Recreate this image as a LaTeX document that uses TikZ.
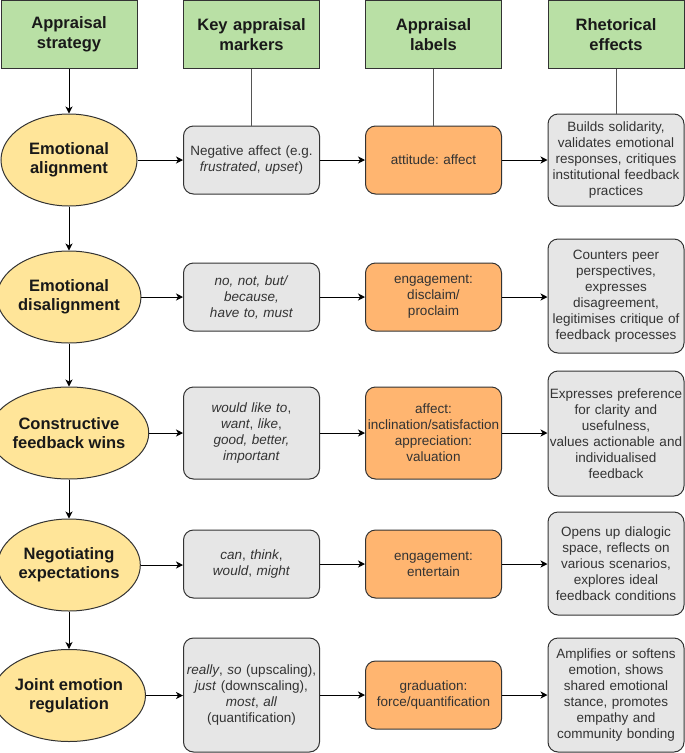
\documentclass[tikz,border=0pt]{standalone}
\usepackage{fontspec}
\setmainfont{Liberation Sans}
\usetikzlibrary{arrows.meta,shapes.geometric}
\definecolor{hdrfill}{HTML}{B9E0A5}
\definecolor{ellfill}{HTML}{FFE599}
\definecolor{orfill}{HTML}{FFB570}
\definecolor{grfill}{HTML}{E6E6E6}
\definecolor{bordc}{HTML}{333333}
\definecolor{bodytext}{HTML}{333333}
\definecolor{linkc}{HTML}{555555}
\frenchspacing
\begin{document}
\begin{tikzpicture}[x=1pt,y=-1pt,
  hdr/.style={draw=bordc, fill=hdrfill, line width=1pt, minimum width=136pt, minimum height=68pt,
    inner sep=0pt, text width=130pt, align=center, font=\fontsize{16.5}{20}\selectfont\bfseries, text=black!90},
  ell/.style={ellipse, draw=bordc, fill=ellfill, line width=1pt, minimum width=136pt, minimum height=92pt,
    inner sep=0pt, align=center, font=\fontsize{16.5}{19}\selectfont\bfseries, text=black!90},
  boxbase/.style={draw=bordc, line width=1pt, rounded corners=10pt, minimum width=136pt,
    inner sep=0pt, text width=134pt, align=center, font=\fontsize{13.5}{16}\selectfont\frenchspacing, text=bodytext},
  graybox/.style={boxbase, fill=grfill},
  orbox/.style={boxbase, fill=orfill},
  arr/.style={-{Stealth[length=7pt,width=7pt,inset=2pt]}, line width=1pt, draw=black},
  link/.style={line width=1pt, draw=linkc}
]
\useasboundingbox (0,0) rectangle (685,753);

% headers
\node[hdr] (h1) at (69,34.5) {Appraisal\\strategy};
\node[hdr] (h2) at (251.5,34.5) {Key appraisal\\markers};
\node[hdr] (h3) at (433.5,34.5) {Appraisal\\labels};
\node[hdr] (h4) at (616,34.5) {Rhetorical\\effects};

% row 1
\node[ell] (e1) at (69,160) {Emotional\\alignment};
\node[graybox, minimum height=68pt] (g1) at (251.5,160) {Negative affect (e.g.\\\textit{frustrated}, \textit{upset})};
\node[orbox, minimum height=68pt] (o1) at (433.5,160) {attitude: affect};
\node[graybox, minimum height=92pt] (r1) at (616,160) {Builds solidarity,\\validates emotional\\responses, critiques\\institutional feedback\\practices};

% row 2
\node[ell] (e2) at (69,297) {Emotional\\disalignment};
\node[graybox, minimum height=68pt] (g2) at (251.5,297) {\textit{no, not, but/}\\\textit{because,}\\\textit{have to, must}};
\node[orbox, minimum height=68pt] (o2) at (433.5,297) {engagement:\\disclaim/\\proclaim};
\node[graybox, minimum height=114pt] (r2) at (616,296) {Counters peer\\perspectives,\\expresses\\disagreement,\\legitimises critique of\\feedback processes};

% row 3
\node[ell] (e3) at (69,433) {Constructive\\feedback wins};
\node[graybox, minimum height=92pt] (g3) at (251.5,433) {\textit{would like to},\\\textit{want}, \textit{like},\\\textit{good, better,}\\\textit{important}};
\node[orbox, minimum height=92pt] (o3) at (433.5,433) {affect:\\inclination/satisfaction\\appreciation:\\valuation};
\node[graybox, minimum height=125pt] (r3) at (616,433.5) {Expresses preference\\for clarity and\\usefulness,\\values actionable and\\individualised\\feedback};

% row 4
\node[ell] (e4) at (69,565) {Negotiating\\expectations};
\node[graybox, minimum height=68pt] (g4) at (251.5,564) {\textit{can}, \textit{think},\\\textit{would}, \textit{might}};
\node[orbox, minimum height=68pt] (o4) at (433.5,564) {engagement:\\entertain};
\node[graybox, minimum height=103pt] (r4) at (616,563.5) {Opens up dialogic\\space, reflects on\\various scenarios,\\explores ideal\\feedback conditions};

% row 5
\node[ell] (e5) at (69,695.5) {Joint emotion\\regulation};
\node[graybox, minimum height=114pt] (g5) at (251.5,695) {\textit{really}, \textit{so} (upscaling),\\\textit{just} (downscaling),\\\textit{most}, \textit{all}\\(quantification)};
\node[orbox, minimum height=68pt] (o5) at (433.5,695) {graduation:\\force/quantification};
\node[graybox, minimum height=114pt] (r5) at (616,695) {Amplifies or softens\\emotion, shows\\shared emotional\\stance, promotes\\empathy and\\community bonding};

% header connectors
\draw[arr] (h1) -- (e1);
\draw[link] (h2) -- (g1);
\draw[link] (h3) -- (o1);
\draw[link] (h4) -- (r1);

% vertical chain
\draw[arr] (e1) -- (e2);
\draw[arr] (e2) -- (e3);
\draw[arr] (e3) -- (e4);
\draw[arr] (e4) -- (e5);

% horizontal arrows
\foreach \i in {1,...,5}{
  \draw[arr] (e\i.east) -- (e\i.east -| g\i.west);
  \draw[arr] (g\i.east) -- (g\i.east -| o\i.west);
  \draw[arr] (o\i.east) -- (o\i.east -| r\i.west);
}
\end{tikzpicture}
\end{document}
